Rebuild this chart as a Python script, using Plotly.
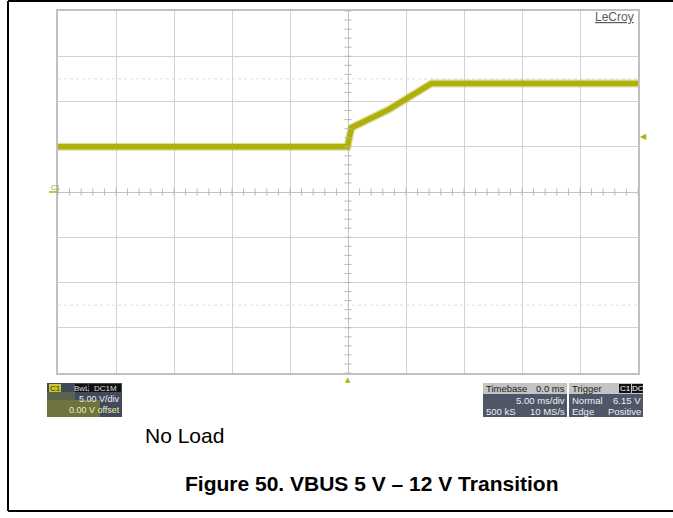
import plotly.graph_objects as go

# ---- scope settings ----
time_per_div_ms = 5.0
volt_per_div = 5.0
n_xdiv = 10
n_ydiv = 8
trigger_level_v = 6.15
trigger_delay_ms = 0.0

# ---- VBUS waveform (time in ms, voltage in V) ----
t_ms = [-25.0, -0.05, 0.3, 3.5, 7.2, 25.0]
vbus_v = [5.0, 5.0, 7.1, 9.1, 12.0, 12.0]

W, H = 673, 518
TRACE = "#b0b00c"
GRID = "#d2d2d2"


def px(x):
    return x / W


def py(y):
    return 1 - y / H


x_half = time_per_div_ms * n_xdiv / 2
y_half = volt_per_div * n_ydiv / 2

fig = go.Figure()

# fuzzy halo + core of the trace
fig.add_trace(go.Scatter(x=t_ms, y=vbus_v, mode="lines",
                         line=dict(color="rgba(185,185,40,0.45)", width=8),
                         hoverinfo="skip", showlegend=False))
fig.add_trace(go.Scatter(x=t_ms, y=vbus_v, mode="lines",
                         line=dict(color=TRACE, width=5.5),
                         showlegend=False))

# minor ticks along the centre cross
tick_t = [i * time_per_div_ms / 5 for i in range(-25, 26) if i != 0]
tick_v = [i * volt_per_div / 5 for i in range(-20, 21) if i != 0]
fig.add_trace(go.Scatter(x=tick_t, y=[0] * len(tick_t), mode="markers",
                         marker=dict(symbol="line-ns", size=5,
                                     line=dict(color="#b8b8b8", width=1)),
                         hoverinfo="skip", showlegend=False))
fig.add_trace(go.Scatter(x=[0] * len(tick_v), y=tick_v, mode="markers",
                         marker=dict(symbol="line-ew", size=5,
                                     line=dict(color="#b8b8b8", width=1)),
                         hoverinfo="skip", showlegend=False))

fig.update_xaxes(domain=[px(58), px(638)], range=[-x_half, x_half],
                 tick0=0, dtick=time_per_div_ms, showticklabels=False,
                 showgrid=True, gridcolor=GRID, gridwidth=1,
                 zeroline=True, zerolinecolor="#c4c4c4", zerolinewidth=1,
                 showline=True, linecolor="#c0c0c0", linewidth=2, mirror=True,
                 fixedrange=True)
fig.update_yaxes(domain=[py(373), py(11)], range=[-y_half, y_half],
                 tick0=0, dtick=volt_per_div, showticklabels=False,
                 showgrid=True, gridcolor=GRID, gridwidth=1,
                 zeroline=True, zerolinecolor="#c4c4c4", zerolinewidth=1,
                 showline=True, linecolor="#c0c0c0", linewidth=2, mirror=True,
                 fixedrange=True)

shapes = []
# faint dotted cursor lines
for lvl in (12.5, -12.5):
    shapes.append(dict(type="line", xref="x", yref="y", x0=-x_half, x1=x_half,
                       y0=lvl, y1=lvl, line=dict(color="#dcdcdc", width=1, dash="dot"),
                       layer="below"))
# channel ground marker
shapes.append(dict(type="line", xref="paper", yref="y", x0=px(49), x1=px(58),
                   y0=0, y1=0, line=dict(color=TRACE, width=1.5)))

# page frame (left, top, bottom)
for x0, y0, x1, y1 in [(8, 1, 8, 511), (8, 1, 673, 1), (8, 511, 673, 511)]:
    shapes.append(dict(type="line", xref="paper", yref="paper",
                       x0=px(x0), y0=py(y0), x1=px(x1), y1=py(y1),
                       line=dict(color="black", width=2)))


def rect(x0, y0, x1, y1, fill, line=None):
    shapes.append(dict(type="rect", xref="paper", yref="paper",
                       x0=px(x0), y0=py(y0), x1=px(x1), y1=py(y1),
                       fillcolor=fill, line=dict(width=0) if line is None else line))


# channel box
rect(47, 383, 122, 417, "#414a5c")
rect(47, 400, 100, 417, "rgba(150,150,40,0.55)")
rect(47, 392, 75, 400, "rgba(150,150,40,0.35)")
rect(49, 384, 61, 392, "#c8c832")
rect(75, 384, 88, 392, "#111111")
rect(89, 384, 121, 392, "#111111")

# timebase box
rect(483, 383, 567, 417, "#4e5668")
rect(483, 383, 567, 394, "#c4c4c4")
# trigger box
rect(569, 383, 643, 417, "#4e5668")
rect(569, 383, 643, 394, "#c4c4c4")
rect(619, 384, 631, 393, "#111111")
rect(632, 384, 643, 393, "#111111")

ann = []

# trigger level arrow at the right edge, trigger position arrow at the bottom
ann.append(dict(xref="x", yref="y", x=x_half, y=trigger_level_v, text="\u25c0",
                showarrow=False, xanchor="left", yanchor="middle", xshift=0,
                font=dict(size=8, color=TRACE, family="DejaVu Sans")))
ann.append(dict(xref="x", yref="y", x=trigger_delay_ms, y=-y_half, text="\u25b2",
                showarrow=False, xanchor="center", yanchor="top", yshift=-1,
                font=dict(size=7, color=TRACE, family="DejaVu Sans")))


def text(x, y, s, size=9, color="white", anchor="left", family="Arial, Liberation Sans"):
    ann.append(dict(xref="paper", yref="paper", x=px(x), y=py(y), text=s,
                    showarrow=False, xanchor=anchor, yanchor="middle",
                    font=dict(size=size, color=color, family=family)))


text(636, 17, "<u>LeCroy</u>", size=12, color="#5a5a5a", anchor="right")
text(49, 187, "C1", size=7, color="#a0a020", anchor="left")

text(55, 388, "C1", size=8, color="#333300", anchor="center")
text(81.5, 388, "BwL", size=8, color="#dddddd", anchor="center")
text(105, 388, "DC1M", size=8, color="#dddddd", anchor="center")
text(122, 399, "5.00 V/div", size=9, color="#f0f0f0", anchor="right")
text(122, 410, "0.00 V offset", size=9, color="#f0f0a0", anchor="right")

text(484, 388.5, "Timebase", size=9.5, color="#222222")
text(567, 388.5, "0.0 ms", size=9.5, color="#222222", anchor="right")
text(567, 400, "5.00 ms/div", size=9.5, color="#f0f0f0", anchor="right")
text(484, 411, "500 kS", size=9.5, color="#f0f0f0")
text(567, 411, "10 MS/s", size=9.5, color="#f0f0f0", anchor="right")

text(570, 388.5, "Trigger", size=9.5, color="#222222")
text(625, 388.5, "C1", size=8, color="#ffffff", anchor="center")
text(637.5, 388.5, "DC", size=8, color="#ffffff", anchor="center")
text(570, 400, "Normal", size=9.5, color="#f0f0f0")
text(643, 400, f"{trigger_level_v:.2f} V", size=9.5, color="#f0f0f0", anchor="right")
text(570, 411, "Edge", size=9.5, color="#f0f0f0")
text(643, 411, "Positive", size=9.5, color="#f0f0f0", anchor="right")

text(143, 435, "No Load", size=21, color="black")
text(371, 483, "<b>Figure 50. VBUS 5 V \u2013 12 V Transition</b>", size=21,
     color="black", anchor="center")

fig.update_layout(width=W, height=H, margin=dict(l=0, r=0, t=0, b=0),
                  paper_bgcolor="white", plot_bgcolor="white",
                  shapes=shapes, annotations=ann, showlegend=False)

fig.write_html("out.html")
